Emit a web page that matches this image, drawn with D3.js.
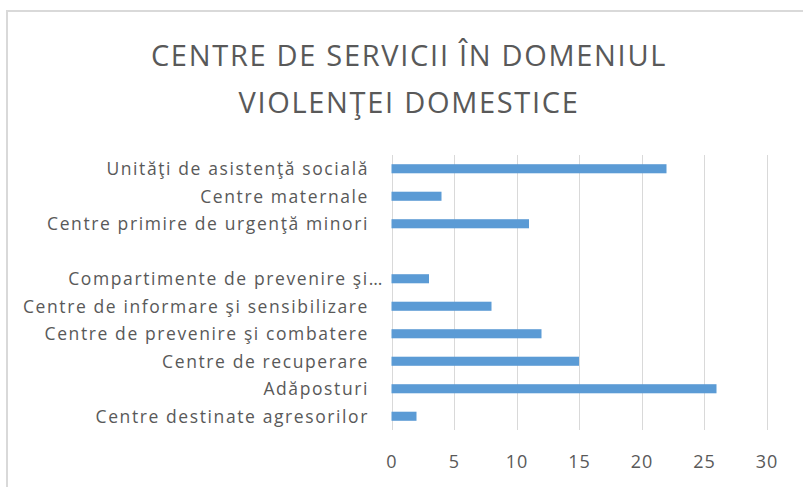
<!DOCTYPE html>
<html>
<head>
<meta charset="utf-8">
<script src="https://cdn.jsdelivr.net/npm/d3@7"></script>
<style>
  body { margin: 0; background: #fff; }
  text { font-family: "Open Sans", sans-serif; fill: #595959; }
</style>
</head>
<body>
<div id="chart"></div>
<script>
const titleLines = ["CENTRE DE SERVICII ÎN DOMENIUL", "VIOLENŢEI DOMESTICE"];
const categories = [
  "Unităţi de asistenţă socială ",
  "Centre maternale",
  "Centre primire de urgenţă minori",
  "",
  "Compartimente de prevenire şi…",
  "Centre de informare şi sensibilizare",
  "Centre de prevenire şi combatere",
  "Centre de recuperare",
  "Adăposturi",
  "Centre destinate agresorilor"
];
const values = [22, 4, 11, null, 3, 8, 12, 15, 26, 2];
const xTicks = [0, 5, 10, 15, 20, 25, 30];

const width = 803, height = 487;

const svg = d3.select("#chart").append("svg")
  .attr("width", width)
  .attr("height", height);

// Chart frame (only top and left edges visible)
svg.append("rect")
  .attr("x", 7)
  .attr("y", 11)
  .attr("width", 820)
  .attr("height", 500)
  .attr("fill", "none")
  .attr("stroke", "#d9d9d9")
  .attr("stroke-width", 2);

// Title
svg.append("text")
  .attr("x", 408)
  .attr("y", 66)
  .attr("text-anchor", "middle")
  .attr("font-size", "29px")
  .attr("letter-spacing", "1.7px")
  .selectAll("tspan")
  .data(titleLines)
  .join("tspan")
  .attr("x", 409)
  .attr("dy", (d, i) => i === 0 ? 0 : 47)
  .text(d => d);

const x = d3.scaleLinear()
  .domain([0, 30])
  .range([391.5, 766.5]);

const y = d3.scaleBand()
  .domain(categories)
  .range([155, 430])
  .paddingInner(0.67)
  .paddingOuter(0.335);

// Grid lines
svg.append("g")
  .selectAll("line")
  .data(xTicks)
  .join("line")
  .attr("x1", d => Math.round(x(d)) + 0.5)
  .attr("x2", d => Math.round(x(d)) + 0.5)
  .attr("y1", 155)
  .attr("y2", 430)
  .attr("stroke", "#d9d9d9")
  .attr("stroke-width", 1);

// Bars
svg.append("g")
  .selectAll("rect")
  .data(categories.map((c, i) => ({ c, v: values[i] })).filter(d => d.v != null))
  .join("rect")
  .attr("x", x(0))
  .attr("y", d => y(d.c))
  .attr("width", d => x(d.v) - x(0))
  .attr("height", y.bandwidth())
  .attr("fill", "#5b9bd5");

// Category labels
svg.append("g")
  .selectAll("text")
  .data(categories)
  .join("text")
  .attr("x", d => d.endsWith("…") ? 384 : 369)
  .attr("y", d => y(d) + y.bandwidth() / 2)
  .attr("dy", "0.38em")
  .attr("text-anchor", "end")
  .attr("font-size", "17.5px")
  .attr("letter-spacing", "1.6px")
  .text(d => d);

// X axis
svg.append("g")
  .attr("transform", "translate(0,455)")
  .call(d3.axisBottom(x).tickValues(xTicks).tickSize(0).tickPadding(0))
  .call(g => g.select(".domain").remove())
  .call(g => g.selectAll("text")
    .attr("font-size", "18px")
    .attr("letter-spacing", "1px")
    .attr("font-family", "'Open Sans', sans-serif")
    .attr("fill", "#595959"));
</script>
</body>
</html>
